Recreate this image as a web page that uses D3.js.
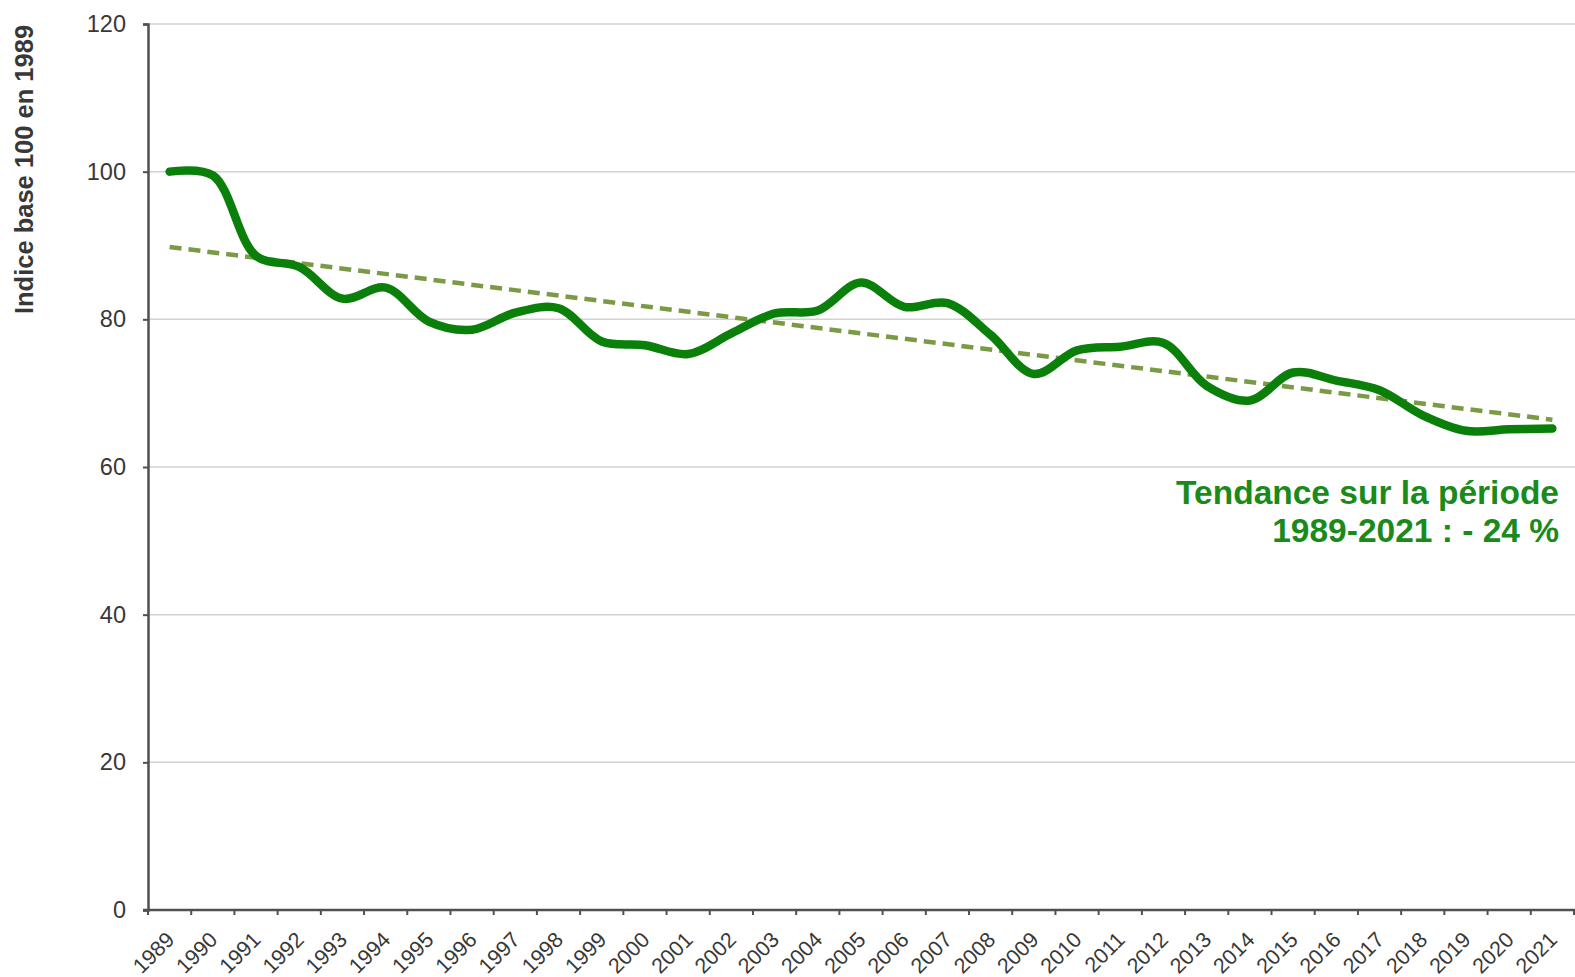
<!DOCTYPE html>
<html lang="fr">
<head>
    <meta charset="UTF-8">
    <title>Indice base 100 en 1989</title>
    <script src="https://d3js.org/d3.v7.min.js"></script>
    <style>
        body { margin: 0; background: white; font-family: "Liberation Sans", Arial, sans-serif; }
        svg { display: block; }
    </style>
</head>
<body>
    <svg width="1575" height="977"></svg>

    <script>
        // data
        const years = ["1989", "1990", "1991", "1992", "1993", "1994", "1995", "1996", "1997", "1998",
                       "1999", "2000", "2001", "2002", "2003", "2004", "2005", "2006", "2007", "2008",
                       "2009", "2010", "2011", "2012", "2013", "2014", "2015", "2016", "2017", "2018",
                       "2019", "2020", "2021"];
        const indexValues = [100, 99.5, 88.6, 87.1, 82.8, 84.3, 79.7, 78.6, 80.9, 81.5,
                             77.0, 76.5, 75.3, 78.1, 80.8, 81.2, 85.0, 81.7, 82.2, 77.9,
                             72.6, 75.8, 76.3, 76.8, 71.0, 69.0, 72.8, 71.7, 70.4, 67.0,
                             64.9, 65.1, 65.2];
        const trendYears = ["1989", "2021"];
        const trendValues = [89.8, 66.4];
        const yTicks = [0, 20, 40, 60, 80, 100, 120];
        const yTitle = "Indice base 100 en 1989";
        const noteLines = ["Tendance sur la période", "1989-2021 : - 24 %"];

        const svg = d3.select("svg");
        const mLeft = 148, mRight = 1574, mTop = 24, mBottom = 910;

        const x = d3.scaleBand().domain(years).range([mLeft, mRight]);
        const y = d3.scaleLinear().domain([0, 120]).range([mBottom, mTop]);
        const cx = d => x(d) + x.bandwidth() / 2;

        // gridlines
        svg.append("g")
            .selectAll("line")
            .data(yTicks.filter(d => d > 0))
            .join("line")
            .attr("x1", mLeft).attr("x2", 1575)
            .attr("y1", d => y(d)).attr("y2", d => y(d))
            .attr("stroke", "#d2d2d2").attr("stroke-width", 1.5);

        // y axis
        const yAxis = svg.append("g")
            .attr("transform", `translate(${mLeft},0)`)
            .call(d3.axisLeft(y).tickValues(yTicks).tickSize(5).tickPadding(17));
        yAxis.select(".domain").attr("stroke", "#505050").attr("stroke-width", 2.5);
        yAxis.selectAll(".tick line").attr("stroke", "#505050").attr("stroke-width", 2);
        yAxis.selectAll("text")
            .attr("font-size", 23.5)
            .attr("font-family", "Liberation Sans, Arial, sans-serif")
            .attr("fill", "#383838");

        // x axis
        const xAxis = svg.append("g")
            .attr("transform", `translate(0,${mBottom})`)
            .call(d3.axisBottom(x).tickSize(0).tickSizeOuter(0));
        xAxis.select(".domain").remove();
        xAxis.selectAll("text")
            .attr("x", 0).attr("y", 0).attr("dy", 0)
            .attr("text-anchor", "end")
            .attr("transform", "translate(6,31) rotate(-45)")
            .attr("font-size", 21.5)
            .attr("font-family", "Liberation Sans, Arial, sans-serif")
            .attr("fill", "#383838");

        svg.append("line")
            .attr("x1", mLeft - 5).attr("x2", 1575)
            .attr("y1", mBottom).attr("y2", mBottom)
            .attr("stroke", "#505050").attr("stroke-width", 2.5);

        svg.append("g")
            .selectAll("line")
            .data(years.map(d => x(d)).concat([mRight]))
            .join("line")
            .attr("x1", d => d).attr("x2", d => d)
            .attr("y1", mBottom).attr("y2", mBottom + 5)
            .attr("stroke", "#505050").attr("stroke-width", 2);

        // y title
        svg.append("text")
            .attr("transform", `translate(33,${(mTop + 315) / 2}) rotate(-90)`)
            .attr("text-anchor", "middle")
            .attr("font-size", 25.5)
            .attr("font-weight", "bold")
            .attr("fill", "#383838")
            .text(yTitle);

        // trend line
        const trendLine = d3.line().x(d => cx(d[0])).y(d => y(d[1]));
        svg.append("path")
            .datum(trendYears.map((d, i) => [d, trendValues[i]]))
            .attr("d", trendLine)
            .attr("fill", "none")
            .attr("stroke", "#7b9a45")
            .attr("stroke-width", 4.5)
            .attr("stroke-dasharray", "12,7");

        // index line
        const line = d3.line()
            .x(d => cx(d[0]))
            .y(d => y(d[1]))
            .curve(d3.curveCatmullRom.alpha(0.5));
        svg.append("path")
            .datum(years.map((d, i) => [d, indexValues[i]]))
            .attr("d", line)
            .attr("fill", "none")
            .attr("stroke", "#0a800a")
            .attr("stroke-width", 8.5)
            .attr("stroke-linecap", "round")
            .attr("stroke-linejoin", "round");

        // note
        svg.append("g")
            .selectAll("text")
            .data(noteLines)
            .join("text")
            .attr("x", 1559)
            .attr("y", (d, i) => 504 + i * 38)
            .attr("text-anchor", "end")
            .attr("font-size", 33.5)
            .attr("font-weight", "bold")
            .attr("fill", "#1a8a1a")
            .text(d => d);
    </script>
</body>
</html>
